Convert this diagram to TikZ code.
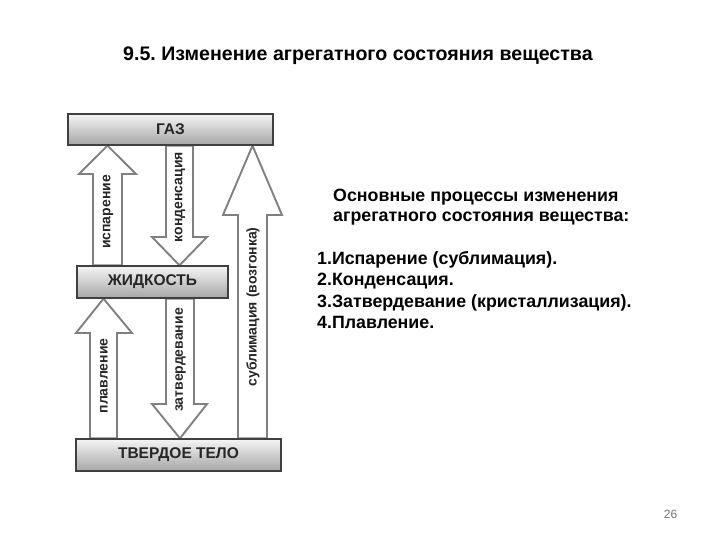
\documentclass[tikz,border=0pt]{standalone}
\usepackage{fontspec}
\setmainfont{Liberation Sans}
\usetikzlibrary{calc}
\frenchspacing
\pgfdeclarelayer{background}
\pgfsetlayers{background,main}
\tikzset{
  bar/.style={draw=black!75, line width=1.3pt, top color=gray!8, bottom color=gray!70,
    inner sep=0pt, text=black!85, font=\bfseries\fontsize{15.5}{18}\selectfont},
  blockarrow/.style={draw=black!50, fill=white, line width=1.9pt, line join=miter},
  arrowlabel/.style={rotate=90, text=black!85, inner sep=0pt, font=\bfseries\fontsize{14}{16}\selectfont},
  maintext/.style={anchor=base west, inner sep=0pt, font=\bfseries\fontsize{17.8}{21}\selectfont},
  titletext/.style={anchor=base west, inner sep=0pt, font=\bfseries\fontsize{19.6}{23}\selectfont},
  pagenum/.style={anchor=base, inner sep=0pt, text=black!55, font=\fontsize{12}{14}\selectfont}
}
\begin{document}
\begin{tikzpicture}[x=1pt,y=-1pt]
\useasboundingbox (0,0) rectangle (720,540);

% bars
\node[bar, minimum width=205pt, minimum height=31pt] (gas) at (170.5,129.5) {ГАЗ};
\node[bar, minimum width=151pt, minimum height=32pt] (liquid) at (152.5,282) {ЖИДКОСТЬ};
\node[bar, minimum width=205pt, minimum height=32pt] (solid) at (178.5,455) {ТВЕРДОЕ ТЕЛО};

% block arrows
\begin{pgfonlayer}{background}
\draw[blockarrow] let \p1=(liquid.north), \p2=(gas.south) in
  (93,\y1) -- (93,174) -- (79,174) -- (107.5,\y2) -- (136,174) -- (122,174) -- (122,\y1) -- cycle;
\draw[blockarrow] let \p1=(gas.south), \p2=(liquid.north) in
  (166,\y1) -- (166,237) -- (152,237) -- (179.5,\y2) -- (207,237) -- (193,237) -- (193,\y1) -- cycle;
\draw[blockarrow] let \p1=(solid.north), \p2=(gas.south) in
  (238,\y1) -- (238,215) -- (223,215) -- (252.5,\y2) -- (282,215) -- (267,215) -- (267,\y1) -- cycle;
\draw[blockarrow] let \p1=(solid.north), \p2=(liquid.south) in
  (90,\y1) -- (90,333) -- (76,333) -- (103.5,\y2) -- (132,333) -- (117,333) -- (117,\y1) -- cycle;
\draw[blockarrow] let \p1=(liquid.south), \p2=(solid.north) in
  (166,\y1) -- (166,404) -- (152,404) -- (180,\y2) -- (207,404) -- (194,404) -- (194,\y1) -- cycle;
\end{pgfonlayer}

% arrow labels
\node[arrowlabel] (l1) at (108,212) {испарение};
\node[arrowlabel] (l2) at (180,197) {конденсация};
\node[arrowlabel] (l3) at (253,307) {сублимация (возгонка)};
\node[arrowlabel] (l4) at (104,376) {плавление};
\node[arrowlabel] (l5) at (180.5,360) {затвердевание};

% title
\node[titletext] (title) at (123,61) {9.5. Изменение агрегатного состояния вещества};

% right text
\node[maintext] (t1) at (333,202) {Основные процессы изменения};
\node[maintext] (t2) at (333,222) {агрегатного состояния вещества:};
\node[maintext] (i1) at (317,264) {1.Испарение (сублимация).};
\node[maintext] (i2) at (317,285) {2.Конденсация.};
\node[maintext] (i3) at (317,307) {3.Затвердевание (кристаллизация).};
\node[maintext] (i4) at (317,328) {4.Плавление.};

% page number
\node[pagenum] (pg) at (670.5,518) {26};
\end{tikzpicture}
\end{document}
